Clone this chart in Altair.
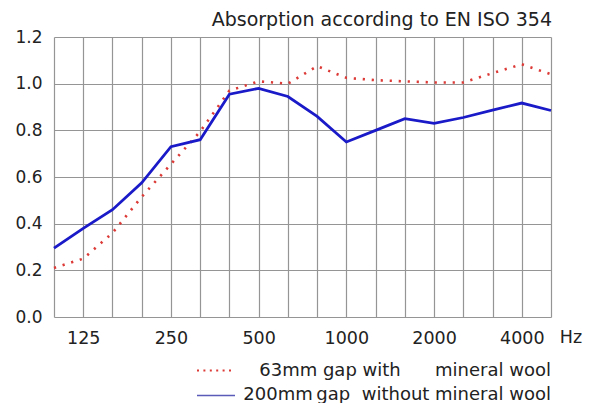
import altair as alt
import pandas as pd

freqs = ["100", "125", "160", "200", "250", "315", "400", "500", "630", "800",
         "1000", "1250", "1600", "2000", "2500", "3150", "4000", "5000"]
with_wool = [0.21, 0.25, 0.36, 0.515, 0.655, 0.795, 0.97, 1.01, 1.0, 1.075,
             1.025, 1.015, 1.01, 1.005, 1.005, 1.045, 1.083, 1.04]
without_wool = [0.295, 0.38, 0.46, 0.575, 0.73, 0.76, 0.955, 0.98, 0.945, 0.86,
                0.75, 0.80, 0.85, 0.83, 0.855, 0.887, 0.917, 0.885]
shown_labels = ["125", "250", "500", "1000", "2000", "4000"]
series_names = ["63mm gap with\u00a0\u00a0\u00a0\u00a0\u00a0\u00a0mineral wool",
                "200mm\u2009gap\u00a0\u00a0without mineral wool"]
title_text = ["Absorption according to EN ISO 354"]
unit_text = ["Hz"]

FONT = "DejaVu Sans"
RED = "#dc3a36"
BLUE = "#1a1ac8"
TXT = "#222222"

df = pd.DataFrame({
    "freq": freqs * 2,
    "alpha": with_wool + without_wool,
    "series": [series_names[0]] * len(freqs) + [series_names[1]] * len(freqs),
})

label_expr = "indexof(" + str(shown_labels) + ", datum.label) >= 0 ? datum.label : ''"

x_enc = alt.X("freq:O", sort=freqs,
              scale=alt.Scale(type="point", padding=0),
              axis=alt.Axis(title=None, labelExpr=label_expr, labelAngle=0,
                            grid=True, ticks=False, domain=False,
                            labelPadding=12, labelFontSize=17.5,
                            labelFont=FONT, labelColor=TXT))
y_enc = alt.Y("alpha:Q",
              scale=alt.Scale(domain=[0, 1.2]),
              axis=alt.Axis(title=None, values=[0, 0.2, 0.4, 0.6, 0.8, 1.0, 1.2],
                            format=".1f", grid=True, ticks=False, domain=False,
                            labelPadding=12, labelFontSize=17,
                            labelFont=FONT, labelColor=TXT))

red_line = alt.Chart(df).transform_filter(
    alt.datum.series == series_names[0]
).mark_line(color=RED, strokeWidth=2.6, strokeDash=[2.2, 6.8]).encode(x=x_enc, y=y_enc)

blue_line = alt.Chart(df).transform_filter(
    alt.datum.series == series_names[1]
).mark_line(color=BLUE, strokeWidth=2.8).encode(x=x_enc, y=y_enc)

title = alt.Chart(pd.DataFrame({"t": title_text})).mark_text(
    font=FONT, fontSize=19, color=TXT, align="right", baseline="alphabetic"
).encode(x=alt.value(498), y=alt.value(-11), text="t:N")

hz = alt.Chart(pd.DataFrame({"t": unit_text})).mark_text(
    font=FONT, fontSize=17.5, color=TXT, align="center", baseline="middle"
).encode(x=alt.value(517), y=alt.value(301), text="t:N")

leg1_line = alt.Chart(pd.DataFrame({"s": [series_names[0]]})).mark_rule(
    color=RED, strokeWidth=2, strokeDash=[2, 4.4]
).encode(x=alt.value(143), x2=alt.value(181), y=alt.value(333.5))
leg2_line = alt.Chart(pd.DataFrame({"s": [series_names[1]]})).mark_rule(
    color="#5a5ab8", strokeWidth=1.3
).encode(x=alt.value(143), x2=alt.value(181), y=alt.value(358.5))

leg1_text = alt.Chart(pd.DataFrame({"s": [series_names[0]]})).mark_text(
    font=FONT, fontSize=18, color=TXT, align="right", baseline="middle"
).encode(x=alt.value(497), y=alt.value(333.5), text="s:N")
leg2_text = alt.Chart(pd.DataFrame({"s": [series_names[1]]})).mark_text(
    font=FONT, fontSize=18, color=TXT, align="right", baseline="middle"
).encode(x=alt.value(497), y=alt.value(358), text="s:N")

chart = alt.layer(
    red_line, blue_line, title, hz, leg1_line, leg2_line, leg1_text, leg2_text
).properties(
    width=497, height=280,
    autosize=alt.AutoSizeParams(type="none"),
    padding={"left": 46, "top": 29, "right": 36, "bottom": 86},
).configure_view(strokeWidth=0).configure_axis(
    gridColor="#959595", gridWidth=1.2, gridOpacity=1
)

chart.save("out.html", embed_options={"renderer": "svg", "actions": False})
